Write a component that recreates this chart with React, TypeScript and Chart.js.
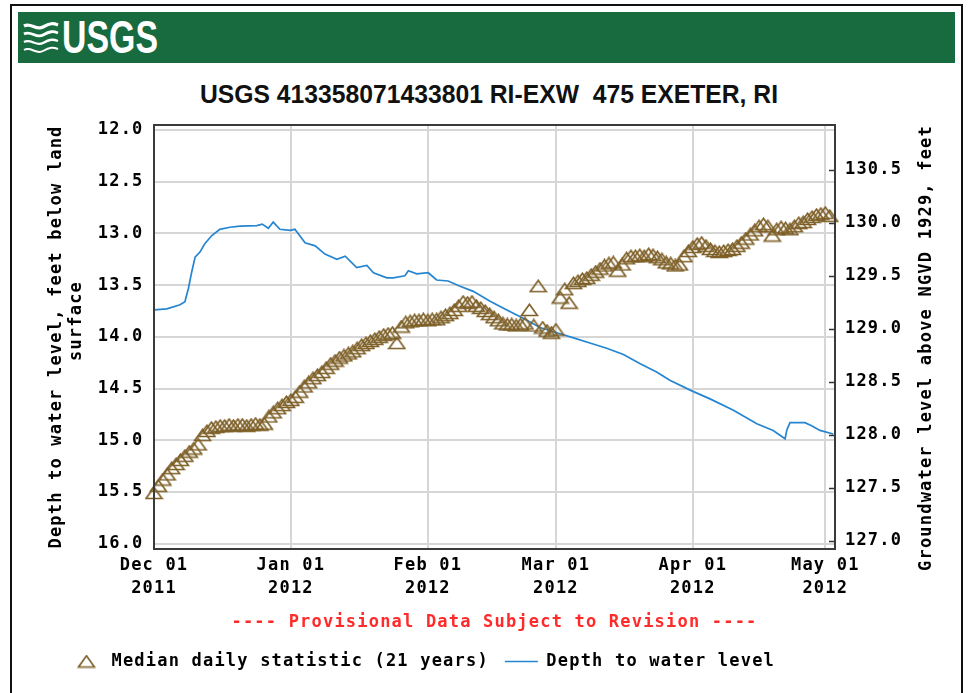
import React, { useEffect, useRef, useMemo } from 'react';
import { Chart, registerables } from 'chart.js';

Chart.register(...registerables);

// ---------- data ----------
const TITLE = 'USGS 413358071433801 RI-EXW  475 EXETER, RI';
const PROVISIONAL = '---- Provisional Data Subject to Revision ----';
const LEFT_TITLE_1 = 'Depth to water level, feet below land';
const LEFT_TITLE_2 = 'surface';
const RIGHT_TITLE = 'Groundwater level above NGVD 1929, feet';
const MEDIAN_LABEL = 'Median daily statistic (21 years)';
const DEPTH_LABEL = 'Depth to water level';

// x axis: days since Dec 01 2011
const MONTH_TICK_DAYS = [0, 31, 62, 91, 122, 152];
const MONTH_TICK_LABELS = [
  ['Dec 01', '2011'],
  ['Jan 01', '2012'],
  ['Feb 01', '2012'],
  ['Mar 01', '2012'],
  ['Apr 01', '2012'],
  ['May 01', '2012'],
];
const DEPTH_TICKS = [12.0, 12.5, 13.0, 13.5, 14.0, 14.5, 15.0, 15.5, 16.0];
const ELEV_TICKS = [127.0, 127.5, 128.0, 128.5, 129.0, 129.5, 130.0, 130.5];

// Median daily statistic (depth, feet), one value per day from Dec 01
const MEDIAN_DEPTH = [
  15.51, 15.44, 15.38, 15.33, 15.27, 15.23, 15.19, 15.15, 15.11, 15.08,
  15.04, 14.95, 14.91, 14.88, 14.87, 14.86, 14.86, 14.85, 14.86, 14.85,
  14.85, 14.86, 14.85, 14.84, 14.85, 14.84, 14.77, 14.73, 14.69, 14.66,
  14.63, 14.61, 14.58, 14.53, 14.48, 14.44, 14.40, 14.37, 14.34, 14.30,
  14.26, 14.23, 14.20, 14.18, 14.16, 14.14, 14.11, 14.08, 14.06, 14.04,
  14.02, 14.00, 13.98, 13.97, 13.96, 14.06, 13.90, 13.86, 13.85, 13.84,
  13.84, 13.83, 13.84, 13.83, 13.83, 13.81, 13.79, 13.77, 13.74, 13.70,
  13.66, 13.67, 13.66, 13.70, 13.72, 13.75, 13.78, 13.81, 13.84, 13.87,
  13.88, 13.88, 13.89, 13.88, 13.87, 13.74, 13.89, 13.51, 13.91, 13.94,
  13.96, 13.93, 13.62, 13.54, 13.67, 13.48, 13.46, 13.44, 13.43, 13.40,
  13.37, 13.34, 13.31, 13.29, 13.28, 13.36, 13.30, 13.24, 13.22, 13.22,
  13.21, 13.22, 13.20, 13.21, 13.23, 13.25, 13.28, 13.29, 13.31, 13.30,
  13.22, 13.17, 13.13, 13.10, 13.09, 13.12, 13.15, 13.17, 13.18, 13.17,
  13.16, 13.15, 13.12, 13.09, 13.05, 13.01, 12.97, 12.93, 12.91, 12.93,
  13.02, 12.96, 12.94, 12.95, 12.96, 12.93, 12.90, 12.89, 12.86, 12.84,
  12.82, 12.81, 12.80, 12.83,
];

// Depth to water level (feet below land surface)
const DEPTH_DAYS = [
  0, 2.9, 5.9, 7.0, 7.8, 8.5, 9.3, 10.4, 11.5, 13.1,
  14.9, 17.2, 19.5, 23.3, 24.5, 25.9, 27.0, 28.5, 30.8, 31.9,
  34.2, 36.5, 38.7, 41.4, 43.3, 45.9, 48.2, 49.7, 52.7, 54.2,
  56.8, 57.6, 59.5, 62.1, 64.0, 66.6, 69.3, 72.3, 76.1, 79.9,
  83.6, 87.4, 91.2, 95.0, 98.7, 102.5, 106.3, 110.1, 113.8, 116.8,
  121.4, 125.9, 131.2, 136.5, 140.2, 142.9, 143.3, 144.0, 147.4, 148.9,
  150.8, 153.8,
];
const DEPTH_VALUES = [
  13.74, 13.73, 13.69, 13.66, 13.53, 13.38, 13.23, 13.18, 13.10, 13.02,
  12.96, 12.94, 12.93, 12.925, 12.91, 12.95, 12.89, 12.96, 12.97, 12.96,
  13.09, 13.12, 13.20, 13.25, 13.22, 13.33, 13.31, 13.38, 13.43, 13.43,
  13.41, 13.36, 13.39, 13.38, 13.45, 13.46, 13.51, 13.56, 13.655, 13.74,
  13.82, 13.91, 13.96, 14.01, 14.06, 14.11, 14.17, 14.26, 14.34, 14.42,
  14.515, 14.60, 14.71, 14.84, 14.905, 14.985, 14.90, 14.83, 14.83, 14.86,
  14.905, 14.94,
];

// ---------- styles ----------
const MONO = "'DejaVu Sans Mono', 'Liberation Mono', monospace";
const SPACING = '1.2px';
const FONT_SIZE = 17;
const BROWN = '#7d5f27';
const BLUE = '#2585d0';
const GRID = '#d6d6d6';
const RED = '#ff2a2a';
const GREEN = '#176b3f';

function setSpacing(chart: any) {
  try {
    chart.ctx.letterSpacing = SPACING;
  } catch (e) {
    /* ignore */
  }
}

const spacingPlugin = {
  id: 'spacing',
  beforeInit: setSpacing,
  beforeUpdate: setSpacing,
  beforeLayout: setSpacing,
  beforeDraw: setSpacing,
};

const decorPlugin = {
  id: 'decor',
  afterDatasetsDraw(chart: any) {
    const { ctx, chartArea } = chart;
    const { left, right, top, bottom } = chartArea;
    ctx.save();
    // right axis inner tick marks
    const s = chart.scales.y2;
    ctx.strokeStyle = '#333';
    ctx.lineWidth = 1.5;
    s.ticks.forEach((t: any) => {
      const y = Math.round(s.getPixelForValue(t.value)) + 0.5;
      ctx.beginPath();
      ctx.moveTo(right - 6, y);
      ctx.lineTo(right, y);
      ctx.stroke();
    });
    // plot frame
    ctx.strokeStyle = '#3a3a3a';
    ctx.lineWidth = 2;
    ctx.strokeRect(left, top, right - left, bottom - top);
    ctx.restore();
  },
  afterDraw(chart: any) {
    const { ctx, chartArea } = chart;
    const midY = (chartArea.top + chartArea.bottom) / 2;
    ctx.save();
    try {
      ctx.letterSpacing = SPACING;
    } catch (e) {
      /* ignore */
    }
    ctx.fillStyle = '#000';
    ctx.font = `bold ${FONT_SIZE}px ${MONO}`;
    ctx.textAlign = 'center';
    ctx.textBaseline = 'middle';
    // left axis title (two lines)
    ctx.save();
    ctx.translate(chartArea.left - 97, midY);
    ctx.rotate(-Math.PI / 2);
    ctx.fillText(LEFT_TITLE_1, 0, 0);
    ctx.restore();
    ctx.save();
    ctx.translate(chartArea.left - 77, midY - 16);
    ctx.rotate(-Math.PI / 2);
    ctx.fillText(LEFT_TITLE_2, 0, 0);
    ctx.restore();
    // right axis title
    ctx.save();
    ctx.translate(chartArea.right + 92, midY + 11);
    ctx.rotate(-Math.PI / 2);
    ctx.fillText(RIGHT_TITLE, 0, 0);
    ctx.restore();
    ctx.restore();
  },
};

function makeTriangle(): HTMLCanvasElement {
  const c = document.createElement('canvas');
  c.width = 19;
  c.height = 14;
  const g = c.getContext('2d')!;
  g.strokeStyle = BROWN;
  g.lineWidth = 1.7;
  g.lineJoin = 'miter';
  g.beginPath();
  g.moveTo(1.5, 12.5);
  g.lineTo(9.5, 1.3);
  g.lineTo(17.5, 12.5);
  g.closePath();
  g.stroke();
  return c;
}

function measure(font: string, text: string): number {
  const c = document.createElement('canvas').getContext('2d')!;
  c.font = font;
  return c.measureText(text).width;
}

const TITLE_FONT = 'bold 26px "Liberation Sans", Arial, sans-serif';
const LOGO_FONT = 'bold 46px "Liberation Sans", Arial, sans-serif';

export default function App() {
  const canvasRef = useRef<HTMLCanvasElement>(null);

  const titleScale = useMemo(() => 578 / measure(TITLE_FONT, TITLE), []);
  const logoScale = useMemo(() => 96 / measure(LOGO_FONT, 'USGS'), []);

  useEffect(() => {
    const canvas = canvasRef.current!;
    const tri = makeTriangle();
    const tickFont = { family: MONO, size: FONT_SIZE, weight: 'bold' as const };

    const chart = new Chart(canvas, {
      type: 'line',
      data: {
        datasets: [
          {
            label: MEDIAN_LABEL,
            data: MEDIAN_DEPTH.map((v, i) => ({ x: i, y: v })),
            showLine: false,
            pointStyle: tri as any,
            pointRadius: 9,
            borderColor: BROWN,
            backgroundColor: 'rgba(0,0,0,0)',
            clip: false as any,
            yAxisID: 'y',
          },
          {
            label: DEPTH_LABEL,
            data: DEPTH_DAYS.map((d, i) => ({ x: d, y: DEPTH_VALUES[i] })),
            borderColor: BLUE,
            backgroundColor: BLUE,
            borderWidth: 1.7,
            pointRadius: 0,
            pointStyle: 'line',
            fill: false,
            tension: 0,
            yAxisID: 'y',
          },
        ],
      },
      options: {
        responsive: false,
        animation: false,
        devicePixelRatio: 1,
        events: [],
        layout: { padding: { left: 54, right: 0, top: 125, bottom: 13 } },
        scales: {
          x: {
            type: 'linear',
            min: 0,
            max: 154.2,
            afterBuildTicks: (s: any) => {
              s.ticks = MONTH_TICK_DAYS.map((v) => ({ value: v }));
            },
            afterFit: (s: any) => {
              s.height = 88;
            },
            grid: { color: GRID, lineWidth: 2, drawTicks: false },
            border: { display: false },
            ticks: {
              autoSkip: false,
              maxRotation: 0,
              minRotation: 0,
              padding: 5.5,
              color: '#000',
              font: { ...tickFont, lineHeight: 23 / FONT_SIZE },
              callback: (_v: any, i: number) => MONTH_TICK_LABELS[i],
            },
            title: {
              display: true,
              text: PROVISIONAL,
              color: RED,
              font: { ...tickFont, lineHeight: 20 / FONT_SIZE },
              padding: { top: 0, bottom: 4 },
            },
          },
          y: {
            type: 'linear',
            position: 'left',
            reverse: true,
            min: 11.9513,
            max: 16.0516,
            afterBuildTicks: (s: any) => {
              s.ticks = DEPTH_TICKS.map((v) => ({ value: v }));
            },
            afterFit: (s: any) => {
              s.width = 100;
            },
            grid: { color: GRID, lineWidth: 2, drawTicks: false },
            border: { display: false },
            ticks: {
              padding: 10.5,
              color: '#000',
              font: tickFont,
              callback: (v: any) => Number(v).toFixed(1),
            },
          },
          y2: {
            type: 'linear',
            position: 'right',
            min: 126.921,
            max: 130.921,
            afterBuildTicks: (s: any) => {
              s.ticks = ELEV_TICKS.map((v) => ({ value: v }));
            },
            afterFit: (s: any) => {
              s.width = 135;
            },
            grid: { drawOnChartArea: false, drawTicks: false },
            border: { display: false },
            ticks: {
              padding: 10,
              color: '#000',
              font: tickFont,
              callback: (v: any) => Number(v).toFixed(1),
            },
          },
        },
        plugins: {
          legend: {
            position: 'bottom',
            align: 'start',
            labels: {
              usePointStyle: true,
              pointStyleWidth: 33,
              padding: 16,
              color: '#000',
              font: { ...tickFont, lineHeight: 1 },
            },
          },
          title: { display: false },
          tooltip: { enabled: false },
        },
      } as any,
      plugins: [spacingPlugin, decorPlugin],
    });
    return () => chart.destroy();
  }, []);

  return (
    <div
      style={{
        position: 'absolute',
        left: 0,
        top: 0,
        width: 970,
        height: 693,
        overflow: 'hidden',
        background: '#fff',
      }}
    >
      {/* outer frame */}
      <div
        style={{
          position: 'absolute',
          left: 10,
          top: 4,
          width: 953,
          height: 720,
          border: '2px solid #111',
          boxSizing: 'border-box',
        }}
      />
      {/* banner */}
      <div
        style={{
          position: 'absolute',
          left: 18,
          top: 12,
          width: 937,
          height: 51,
          background: GREEN,
        }}
      />
      <svg
        width={36}
        height={32}
        viewBox="0 0 36 32"
        style={{ position: 'absolute', left: 23, top: 21 }}
      >
        <path d="M1 5 C 8 1, 13 10, 20 6 S 30 2, 35 4" stroke="#fff" strokeWidth={3.2} fill="none" />
        <path d="M1 13 C 8 9, 13 18, 20 14 S 30 10, 35 12" stroke="#fff" strokeWidth={2.8} fill="none" />
        <path d="M1 21 C 8 17, 13 26, 20 22 S 30 18, 35 20" stroke="#fff" strokeWidth={2.4} fill="none" />
        <path d="M1 29 C 8 25, 13 34, 20 30 S 30 26, 35 28" stroke="#fff" strokeWidth={2.0} fill="none" />
      </svg>
      <div
        style={{
          position: 'absolute',
          left: 110,
          top: 14,
          font: LOGO_FONT,
          lineHeight: '46px',
          color: '#fff',
          whiteSpace: 'nowrap',
          transform: `translateX(-50%) scaleX(${logoScale})`,
        }}
      >
        USGS
      </div>
      {/* title */}
      <div
        style={{
          position: 'absolute',
          left: 489,
          top: 81,
          font: TITLE_FONT,
          lineHeight: '26px',
          color: '#111',
          whiteSpace: 'pre',
          transform: `translateX(-50%) scaleX(${titleScale})`,
        }}
      >
        {TITLE}
      </div>
      <canvas
        ref={canvasRef}
        width={970}
        height={693}
        style={{ position: 'absolute', left: 0, top: 0, width: 970, height: 693 }}
      />
    </div>
  );
}
